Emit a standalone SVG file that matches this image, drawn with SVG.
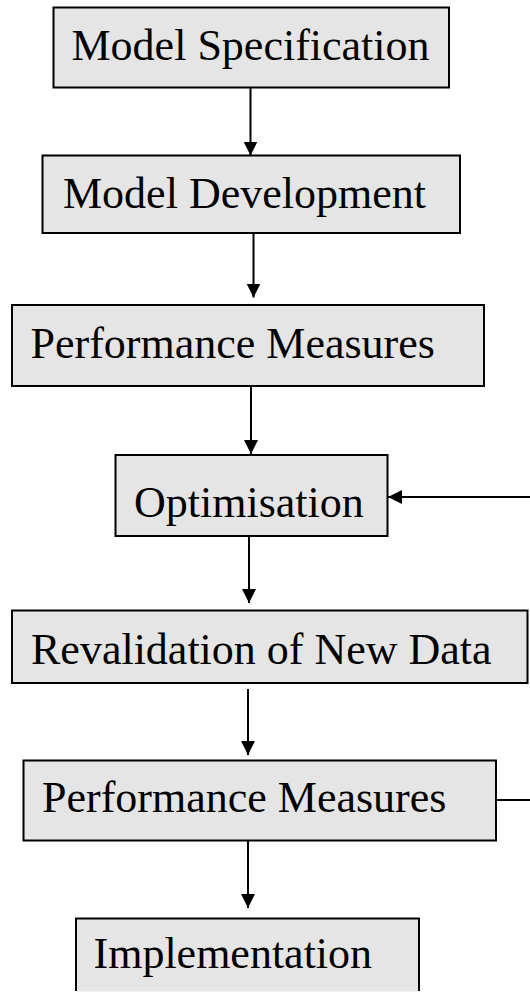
<svg xmlns="http://www.w3.org/2000/svg" width="530" height="994" viewBox="0 0 530 994">
<style>
.box{fill:#e5e5e5;stroke:#000;stroke-width:2}
.lbl{font-family:"Liberation Serif","Times New Roman",serif;font-size:44px;fill:#000}
.conn{fill:none;stroke:#000;stroke-width:2}
</style>
<defs>
<marker id="ah" markerUnits="userSpaceOnUse" markerWidth="15" markerHeight="15" refX="14" refY="7" orient="auto">
<path d="M0,0 L14,7 L0,14 z" fill="#000"/>
</marker>
</defs>
<rect x="0" y="0" width="530" height="994" fill="#fff"/>
<g id="connectors">
<path class="conn" d="M250.5,88 V155.5" marker-end="url(#ah)"/>
<path class="conn" d="M253.5,231 V297.5" marker-end="url(#ah)"/>
<path class="conn" d="M251,386 V454" marker-end="url(#ah)"/>
<path class="conn" d="M249,536 V603" marker-end="url(#ah)"/>
<path class="conn" d="M248,689 V755" marker-end="url(#ah)"/>
<path class="conn" d="M248,840 V908" marker-end="url(#ah)"/>
<path class="conn" d="M496,800 H545 V497 H388" marker-end="url(#ah)"/>
</g>
<g id="n1">
<rect class="box" x="53.5" y="7.5" width="395.5" height="80"/>
<text class="lbl" x="71.5" y="60">Model Specification</text>
</g>
<g id="n2">
<rect class="box" x="42.5" y="155.5" width="417.5" height="77.5"/>
<text class="lbl" x="63" y="208">Model Development</text>
</g>
<g id="n3">
<rect class="box" x="12" y="305" width="472" height="81"/>
<text class="lbl" x="30.5" y="358">Performance Measures</text>
</g>
<g id="n4">
<rect class="box" x="115.5" y="455" width="272" height="81"/>
<text class="lbl" x="134" y="517">Optimisation</text>
</g>
<g id="n5">
<rect class="box" x="12" y="610.5" width="515.5" height="72.5"/>
<text class="lbl" x="31" y="663.5">Revalidation of New Data</text>
</g>
<g id="n6">
<rect class="box" x="23.5" y="760.5" width="472.5" height="80"/>
<text class="lbl" x="42" y="811.5">Performance Measures</text>
</g>
<g id="n7">
<rect x="76" y="918.5" width="343" height="73" fill="#e5e5e5"/>
<path class="conn" d="M76,991 V918.5 H419 V991"/>
<text class="lbl" x="93.5" y="968">Implementation</text>
</g>
</svg>
